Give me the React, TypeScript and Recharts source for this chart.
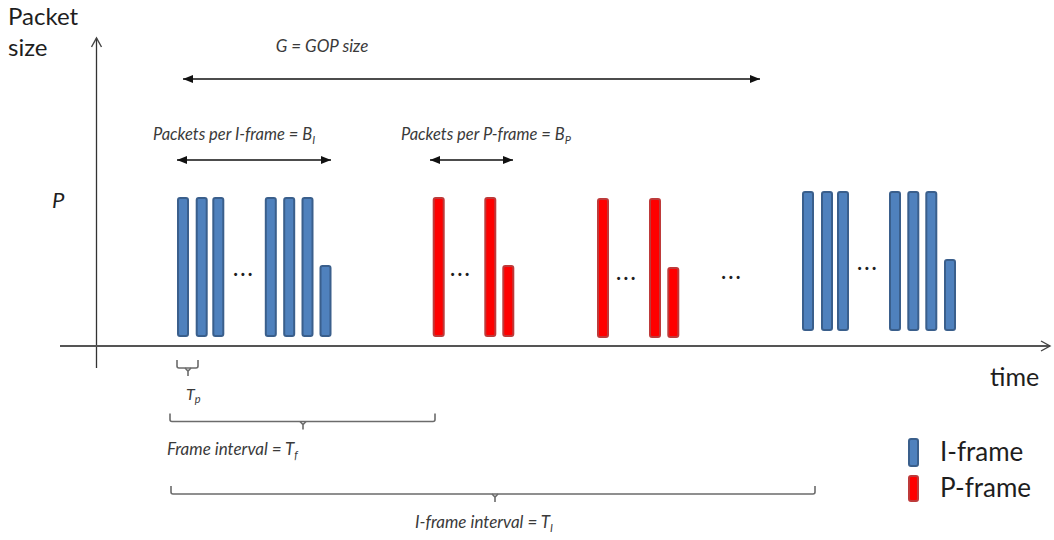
import { ComposedChart, Bar, XAxis, YAxis } from 'recharts';

// packet send times (x) and packet sizes as [start, end] of each bar
const iFrameTimes = [183, 201.7, 218.3, 270.8, 289.2, 307.5, 325.5, 808, 827, 843, 895, 913.3, 931.3, 950];
const iFrameLow = [10, 10, 10, 10, 10, 10, 10, 16, 16, 16, 16, 16, 16, 16];
const iFrameHigh = [148, 148, 148, 148, 148, 148, 80, 154, 154, 154, 154, 154, 154, 86];

const pFrameTimes = [438.7, 490.3, 508.3, 603, 655, 673.3];
const pFrameLow = [10, 10, 10, 9, 9, 9];
const pFrameHigh = [148, 148, 80, 147, 147, 78];

const legendLabels = ['I-frame', 'P-frame'];

const rows = [
  ...iFrameTimes.map((t, k) => ({ t, i: [iFrameLow[k], iFrameHigh[k]], p: null as number[] | null })),
  ...pFrameTimes.map((t, k) => ({ t, i: null as number[] | null, p: [pFrameLow[k], pFrameHigh[k]] })),
].sort((a, b) => a.t - b.t);

const BLUE = '#4F81BD';
const BLUE_EDGE = '#3A5F8C';
const RED = '#FF0000';
const RED_EDGE = '#BE3A3A';
const INK = '#1e1e1e';
const SOFT = '#3a3a3a';
const GREY = '#6b6b6b';

const Brace = ({ x1, x2, y, mid }: { x1: number; x2: number; y: number; mid: number }) => (
  <g fill="none" stroke={GREY} strokeWidth={1.6}>
    <path d={`M${x1},${y - 8} L${x1},${y - 2} Q${x1},${y} ${x1 + 2},${y} L${x2 - 2},${y} Q${x2},${y} ${x2},${y - 2} L${x2},${y - 8}`} />
    <path d={`M${mid - 3},${y} L${mid},${y + 3} L${mid + 3},${y} M${mid},${y + 3} L${mid},${y + 8}`} />
  </g>
);

const Dots = ({ x, y }: { x: number; y: number }) => (
  <text x={x} y={y} fontSize={20} fontWeight={700} letterSpacing={2.5} fill={INK} textAnchor="middle">...</text>
);

const Annotations = () => (
  <g fontFamily="Lato, sans-serif">
    <defs>
      <marker id="openHead" markerUnits="userSpaceOnUse" markerWidth={14} markerHeight={14} refX={10} refY={6} orient="auto">
        <path d="M1,1 L10,6 L1,11" fill="none" stroke="#444" strokeWidth={1.4} />
      </marker>
      <marker id="solidHead" markerUnits="userSpaceOnUse" markerWidth={12} markerHeight={10} refX={10} refY={5} orient="auto-start-reverse">
        <path d="M0,1 L10,5 L0,9 Z" fill="#111" />
      </marker>
    </defs>

    {/* axes */}
    <line x1={96.5} y1={368} x2={96.5} y2={38} stroke="#333" strokeWidth={1.3} markerEnd="url(#openHead)" />
    <line x1={60} y1={346} x2={1050} y2={346} stroke="#555" strokeWidth={1.8} markerEnd="url(#openHead)" />

    <text x={8} y={25} fontSize={24} fill={INK}>Packet</text>
    <text x={8} y={56} fontSize={24} fill={INK}>size</text>
    <text x={990} y={386} fontSize={25} fill={INK}>time</text>
    <text x={52} y={208} fontSize={22} fontStyle="italic" fill={INK}>P</text>

    {/* GOP */}
    <text x={322} y={52} fontSize={17} fontStyle="italic" fill={SOFT} textAnchor="middle">G = GOP size</text>
    <line x1={183} y1={79} x2={760} y2={79} stroke="#111" strokeWidth={1.4} markerStart="url(#solidHead)" markerEnd="url(#solidHead)" />

    <text x={153} y={140} fontSize={16.5} fontStyle="italic" fill={SOFT}>
      Packets per I-frame = B<tspan fontSize={11} dy={4}>I</tspan>
    </text>
    <line x1={177} y1={160} x2={331} y2={160} stroke="#111" strokeWidth={1.4} markerStart="url(#solidHead)" markerEnd="url(#solidHead)" />

    <text x={401} y={140} fontSize={16.5} fontStyle="italic" fill={SOFT}>
      Packets per P-frame = B<tspan fontSize={11} dy={4}>P</tspan>
    </text>
    <line x1={430} y1={160} x2={513} y2={160} stroke="#111" strokeWidth={1.4} markerStart="url(#solidHead)" markerEnd="url(#solidHead)" />

    <Dots x={244} y={276} />
    <Dots x={461} y={276} />
    <Dots x={627} y={280} />
    <Dots x={732} y={279} />
    <Dots x={868} y={270} />

    {/* intervals */}
    <Brace x1={177} x2={198} y={368} mid={188} />
    <text x={186} y={400} fontSize={16} fontStyle="italic" fill={SOFT}>
      T<tspan fontSize={11} dy={3}>p</tspan>
    </text>

    <Brace x1={170} x2={435} y={421.5} mid={303} />
    <text x={167} y={455} fontSize={17} fontStyle="italic" fill={SOFT}>
      Frame interval = T<tspan fontSize={11} dy={4}>f</tspan>
    </text>

    <Brace x1={171} x2={815} y={494} mid={495} />
    <text x={415} y={528} fontSize={17} fontStyle="italic" fill={SOFT}>
      I-frame interval = T<tspan fontSize={11} dy={4}>I</tspan>
    </text>

    {/* legend */}
    <rect x={909} y={439} width={9} height={27} rx={2} fill={BLUE} stroke={BLUE_EDGE} strokeWidth={2} />
    <text x={940} y={461} fontSize={26} fill={INK}>{legendLabels[0]}</text>
    <rect x={909} y={476} width={9} height={25} rx={2} fill={RED} stroke={RED_EDGE} strokeWidth={2} />
    <text x={940} y={497} fontSize={26} fill={INK}>{legendLabels[1]}</text>
  </g>
);

export default function App() {
  return (
    <div style={{ position: 'absolute', left: 0, top: 0, background: '#fff' }}>
      <ComposedChart width={1054} height={540} data={rows} margin={{ top: 0, right: 0, bottom: 0, left: 0 }}>
        <XAxis xAxisId="i" dataKey="t" type="number" domain={[0, 1054]} allowDataOverflow hide />
        <XAxis xAxisId="p" dataKey="t" type="number" domain={[0, 1054]} allowDataOverflow hide />
        <YAxis yAxisId="y" type="number" domain={[-194, 346]} allowDataOverflow hide />
        <Annotations />
        <Bar
          dataKey="i"
          name={legendLabels[0]}
          xAxisId="i"
          yAxisId="y"
          barSize={10}
          fill={BLUE}
          stroke={BLUE_EDGE}
          strokeWidth={2}
          radius={2}
          isAnimationActive={false}
        />
        <Bar
          dataKey="p"
          name={legendLabels[1]}
          xAxisId="p"
          yAxisId="y"
          barSize={10}
          fill={RED}
          stroke={RED_EDGE}
          strokeWidth={2}
          radius={2}
          isAnimationActive={false}
        />
      </ComposedChart>
    </div>
  );
}
